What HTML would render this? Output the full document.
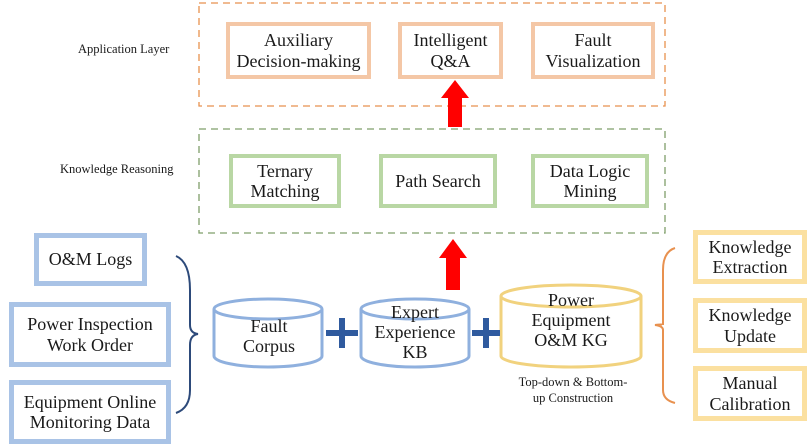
<!DOCTYPE html>
<html><head><style>
body{margin:0;width:811px;height:445px;background:#fff;position:relative;overflow:hidden;font-family:"Liberation Serif",serif;color:#1a1a1a}
.b{position:absolute;box-sizing:border-box;display:flex;align-items:center;justify-content:center;text-align:center;line-height:1.12;font-size:18px;background:#fff}
.o{border:4px solid #f4c7a6}
.g{border:4px solid #b9d7a4}
.bl{border:5px solid #a9c3e6}
.y{border:5px solid #fbe0a0}
.lbl{position:absolute;font-size:12.5px}
</style></head><body>
<svg width="811" height="445" style="position:absolute;left:0;top:0">
<rect x="199" y="3" width="466" height="103" fill="none" stroke="#e8914f" stroke-width="1.3" stroke-dasharray="7,5"/>
<rect x="199" y="129" width="466" height="104" fill="none" stroke="#7f9f6a" stroke-width="1.3" stroke-dasharray="7,5"/>
<polygon points="448,127 448,98 441,98 455,80 469,98 462,98 462,127" fill="#f00"/>
<polygon points="446,290 446,258 439,258 453,239 467,258 460,258 460,290" fill="#f00"/>
<path d="M176,256 Q190,262 190,290 L190,325 Q190,333 198,334 Q190,335 190,345 L190,390 Q190,408 176,413" fill="none" stroke="#2d4a7a" stroke-width="2"/>
<path d="M675,248 Q663,252 663,270 L663,325 Q663,324 655,325 Q663,326 663,330 L663,390 Q663,400 675,403" fill="none" stroke="#e8914f" stroke-width="2"/>
<g fill="#fff" stroke="#8fb0de" stroke-width="3">
<path d="M214,309 L214,356 A54,11 0 0 0 322,356 L322,309"/><ellipse cx="268" cy="309" rx="54" ry="10"/>
<path d="M361,309 L361,356 A54,11 0 0 0 469,356 L469,309"/><ellipse cx="415" cy="309" rx="54" ry="10"/>
</g>
<g fill="#fff" stroke="#f1d27e" stroke-width="3">
<path d="M501,296 L501,356 A70,11 0 0 0 641,356 L641,296"/><ellipse cx="571" cy="296" rx="70" ry="11"/>
</g>
<g stroke="#2f5a9e" stroke-width="6"><line x1="326" y1="333" x2="358" y2="333"/><line x1="342" y1="318" x2="342" y2="348"/>
<line x1="472" y1="333" x2="500" y2="333"/><line x1="486" y1="318" x2="486" y2="348"/></g>
</svg>
<div class="lbl" style="left:78px;top:42px">Application Layer</div>
<div class="lbl" style="left:60px;top:162px">Knowledge Reasoning</div>
<div class="b o" style="left:226px;top:22px;width:145px;height:57px">Auxiliary<br>Decision-making</div>
<div class="b o" style="left:398px;top:22px;width:105px;height:57px">Intelligent<br>Q&amp;A</div>
<div class="b o" style="left:531px;top:22px;width:124px;height:57px">Fault<br>Visualization</div>
<div class="b g" style="left:229px;top:154px;width:112px;height:54px">Ternary<br>Matching</div>
<div class="b g" style="left:379px;top:154px;width:118px;height:54px">Path Search</div>
<div class="b g" style="left:531px;top:154px;width:118px;height:54px">Data Logic<br>Mining</div>
<div class="b bl" style="left:34px;top:233px;width:113px;height:53px">O&amp;M Logs</div>
<div class="b bl" style="left:9px;top:302px;width:162px;height:65px">Power Inspection<br>Work Order</div>
<div class="b bl" style="left:9px;top:380px;width:162px;height:64px">Equipment Online<br>Monitoring Data</div>
<div class="b" style="left:224px;top:314px;width:90px;height:44px;background:none">Fault<br>Corpus</div>
<div class="b" style="left:362px;top:300px;width:106px;height:64px;background:none">Expert<br>Experience<br>KB</div>
<div class="b" style="left:506px;top:285px;width:130px;height:70px;background:none">Power<br>Equipment<br>O&amp;M KG</div>
<div class="lbl" style="left:503px;top:374px;width:140px;text-align:center;line-height:1.3">Top-down &amp; Bottom-<br>up Construction</div>
<div class="b y" style="left:693px;top:230px;width:114px;height:54px">Knowledge<br>Extraction</div>
<div class="b y" style="left:693px;top:298px;width:114px;height:55px">Knowledge<br>Update</div>
<div class="b y" style="left:693px;top:366px;width:114px;height:55px">Manual<br>Calibration</div>
</body></html>
